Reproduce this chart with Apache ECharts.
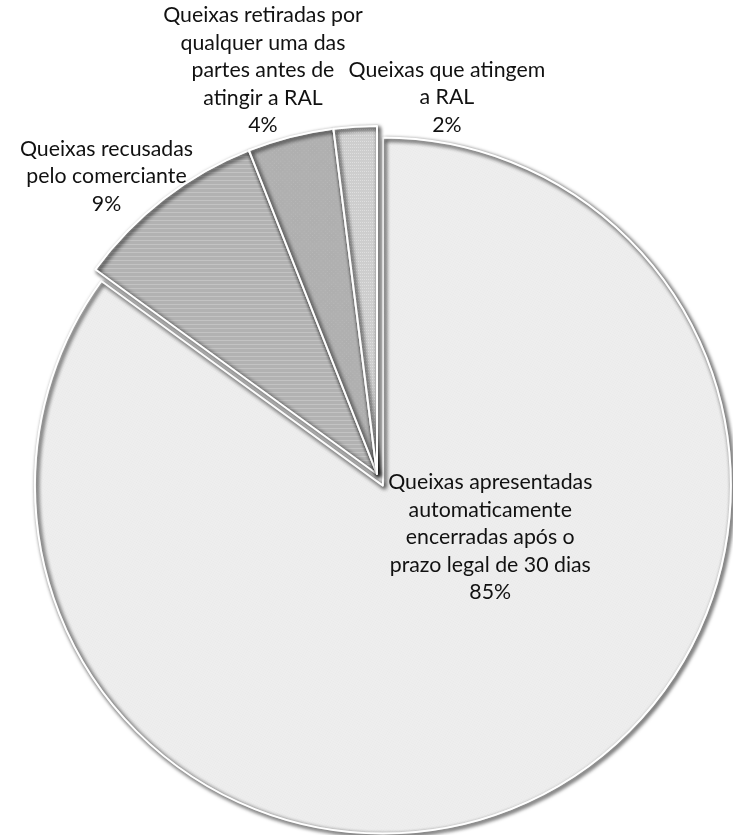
<!DOCTYPE html>
<html>
<head>
<meta charset="utf-8">
<script src="https://cdn.jsdelivr.net/npm/echarts@6/dist/echarts.min.js"></script>
<style>
  html, body { margin: 0; padding: 0; background: #fff; }
  #chart { width: 733px; height: 835px; }
</style>
</head>
<body>
<div id="chart"></div>
<script>
const categories = [
  "Queixas apresentadas\nautomaticamente\nencerradas após o\nprazo legal de 30 dias",
  "Queixas recusadas\npelo comerciante",
  "Queixas retiradas por\nqualquer uma das\npartes antes de\natingir a RAL",
  "Queixas que atingem\na RAL"
];
const values = [85, 9, 4, 2];

const fills = ["#efefef", "#bcbcbc", "#b2b2b2", "#dadada"];
const decals = [
  { symbol: "rect", symbolSize: 1, color: "rgba(0,0,0,0.02)", dashArrayX: [1, 1], dashArrayY: [1, 1] },
  { symbol: "rect", symbolSize: 1, color: "rgba(255,255,255,0.22)", dashArrayX: [1, 0], dashArrayY: [1, 3] },
  { symbol: "rect", symbolSize: 1, color: "rgba(255,255,255,0.12)", dashArrayX: [1, 2], dashArrayY: [1, 2] },
  { symbol: "rect", symbolSize: 1, color: "rgba(255,255,255,0.35)", dashArrayX: [1, 1], dashArrayY: [1, 2] }
];
// label shifts away from the default inside position
const labelShift = [[27, -106], [-162, -158], [-70, -232], [81, -200]];

const chart = echarts.init(document.getElementById("chart"));
chart.setOption({
  animation: false,
  aria: { enabled: true, decal: { show: true } },
  series: [
    {
      type: "pie",
      center: [377, 474],
      radius: 348,
      startAngle: 90,
      selectedMode: "single",
      selectedOffset: 13,
      avoidLabelOverlap: false,
      itemStyle: {
        borderColor: "#fff",
        borderWidth: 2,
        shadowBlur: 4,
        shadowOffsetX: 2,
        shadowOffsetY: 2,
        shadowColor: "rgba(0,0,0,0.22)"
      },
      label: {
        position: "inside",
        formatter: "{b}\n{c}%",
        fontFamily: "Lato",
        fontSize: 21.3,
        lineHeight: 27.5,
        color: "#111",
        align: "center"
      },
      labelLine: { show: false },
      labelLayout: function (params) {
        const s = labelShift[params.dataIndex];
        return { dx: s[0], dy: s[1] };
      },
      emphasis: { disabled: true },
      data: values.map(function (v, i) {
        return {
          name: categories[i],
          value: v,
          selected: i === 0,
          itemStyle: { color: fills[i], decal: decals[i] }
        };
      })
    }
  ]
});
</script>
</body>
</html>
